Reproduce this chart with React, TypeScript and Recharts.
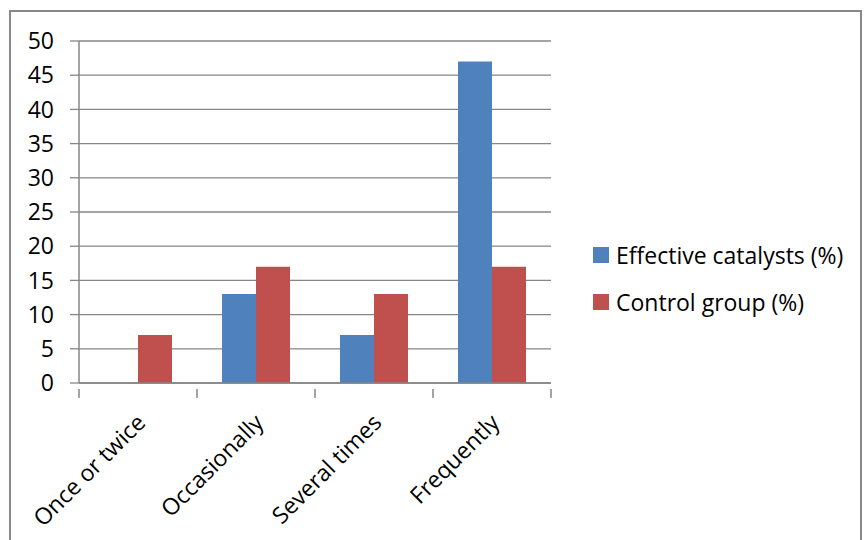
import { BarChart, Bar, XAxis, YAxis, CartesianGrid } from 'recharts';

const categories = ['Once or twice', 'Occasionally', 'Several times', 'Frequently'];
const effective = [0, 13, 7, 47];
const control = [7, 17, 13, 17];
const yTicks = [0, 5, 10, 15, 20, 25, 30, 35, 40, 45, 50];
const seriesNames = ['Effective catalysts (%)', 'Control group (%)'];
const seriesColors = ['#4F81BD', '#C0504D'];

const data = categories.map((c, i) => ({ name: c, effective: effective[i], control: control[i] }));

const FONT = '"Open Sans", sans-serif';
const GRID = '#868686';
const BAND = 118;
const FS = 23;

const XTick = ({ x, y, payload, index }: any) => (
  <g>
    <line x1={x - BAND / 2} y1={y - 2} x2={x - BAND / 2} y2={y + 7} stroke={GRID} strokeWidth={1.5} />
    {index === categories.length - 1 && (
      <line x1={x + BAND / 2} y1={y - 2} x2={x + BAND / 2} y2={y + 7} stroke={GRID} strokeWidth={1.5} />
    )}
    <text
      x={x + 9}
      y={y + 33}
      transform={`rotate(-45, ${x + 9}, ${y + 33})`}
      textAnchor="end"
      fontSize={FS}
      fontFamily={FONT}
      fill="#000"
    >
      {payload.value}
    </text>
  </g>
);

const App = () => {
  return (
    <div
      style={{
        position: 'absolute',
        left: 9,
        top: 10,
        width: 853,
        height: 540,
        border: '2px solid #888888',
        boxSizing: 'border-box',
        background: '#fff',
        fontFamily: FONT,
      }}
    >
      <BarChart
        width={849}
        height={528}
        data={data}
        margin={{ top: 29, right: 309, left: 0, bottom: 0 }}
        barCategoryGap={25}
        barGap={0}
      >
        <CartesianGrid vertical={false} stroke={GRID} strokeWidth={1.3} />
        <XAxis
          dataKey="name"
          height={157}
          interval={0}
          tickLine={false}
          axisLine={{ stroke: GRID, strokeWidth: 1.5 }}
          tick={<XTick />}
        />
        <YAxis
          width={68}
          domain={[0, 50]}
          ticks={yTicks}
          interval={0}
          tickSize={9}
          tickMargin={16}
          axisLine={{ stroke: GRID, strokeWidth: 1.5 }}
          tickLine={{ stroke: GRID, strokeWidth: 1.3 }}
          tick={{ fill: '#000', fontSize: FS, fontFamily: FONT }}
        />
        <Bar dataKey="effective" name={seriesNames[0]} fill={seriesColors[0]} isAnimationActive={false} />
        <Bar dataKey="control" name={seriesNames[1]} fill={seriesColors[1]} isAnimationActive={false} />
      </BarChart>
      <div style={{ position: 'absolute', left: 582, top: 227 }}>
        {seriesNames.map((n, i) => (
          <div key={n} style={{ display: 'flex', alignItems: 'center', height: 32, marginBottom: 15 }}>
            <div style={{ width: 16, height: 16, background: seriesColors[i], marginRight: 7 }} />
            <span style={{ fontSize: FS, color: '#000', whiteSpace: 'nowrap' }}>{n}</span>
          </div>
        ))}
      </div>
    </div>
  );
};

export default App;
